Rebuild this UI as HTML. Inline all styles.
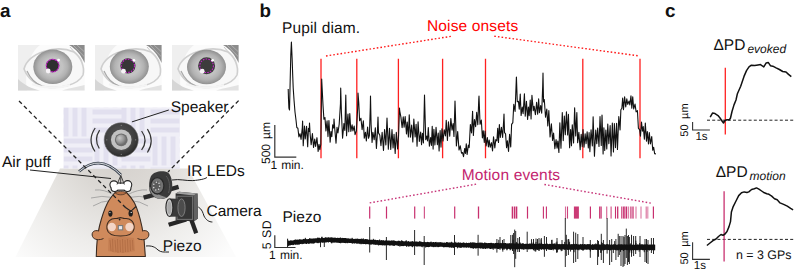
<!DOCTYPE html>
<html><head><meta charset="utf-8">
<style>
html,body{margin:0;padding:0;background:#fff;width:794px;height:273px;overflow:hidden}
svg{display:block}
text{font-family:"Liberation Sans",sans-serif;fill:#111;text-rendering:geometricPrecision}
</style></head><body>
<svg width="794" height="273" viewBox="0 0 794 273" xmlns="http://www.w3.org/2000/svg">
<defs>
<radialGradient id="floorg" gradientUnits="userSpaceOnUse" cx="118" cy="150" r="150">
<stop offset="0" stop-color="#d3cfcb"/><stop offset="0.28" stop-color="#dbd8d4"/><stop offset="0.65" stop-color="#eeedeb"/><stop offset="1" stop-color="#fcfcfc"/>
</radialGradient>
<pattern id="weave" x="63.5" y="107.5" width="58" height="58" patternUnits="userSpaceOnUse">
<rect width="58" height="58" fill="#f0eff7"/>
<g fill="#e2e0ef">
<rect x="0" y="0" width="5" height="29"/><rect x="9" y="0" width="5" height="29"/><rect x="18" y="0" width="5" height="29"/>
<rect x="29" y="2" width="29" height="5"/><rect x="29" y="11" width="29" height="5"/><rect x="29" y="20" width="29" height="5"/>
<rect x="0" y="31" width="29" height="5"/><rect x="0" y="40" width="29" height="5"/><rect x="0" y="49" width="29" height="5"/>
<rect x="31" y="29" width="5" height="29"/><rect x="40" y="29" width="5" height="29"/><rect x="49" y="29" width="5" height="29"/>
</g>
</pattern>
<radialGradient id="irisg" cx="0.5" cy="0.5" r="0.5">
<stop offset="0" stop-color="#bcbcbc"/><stop offset="0.5" stop-color="#c3c3c3"/><stop offset="0.75" stop-color="#b2b2b2"/><stop offset="0.92" stop-color="#9c9c9c"/><stop offset="1" stop-color="#909090"/>
</radialGradient>
<radialGradient id="spk1" cx="0.45" cy="0.4" r="0.6">
<stop offset="0" stop-color="#5a5a5a"/><stop offset="0.8" stop-color="#3c3c3c"/><stop offset="1" stop-color="#2a2a2a"/>
</radialGradient>
<radialGradient id="spk3" cx="0.35" cy="0.35" r="0.7">
<stop offset="0" stop-color="#c8c8c8"/><stop offset="0.6" stop-color="#959595"/><stop offset="1" stop-color="#6a6a6a"/>
</radialGradient>
<clipPath id="eyeclip1"><path d="M28 68 C34 50 60 44 76 56 C80 62 80 72 76 80 C64 88 42 88 28 68 Z"/></clipPath>
</defs>

<!-- ============ PANEL A ============ -->
<text x="0.1" y="17" font-size="18.8" font-weight="bold">a</text>

<!-- eye images -->
<g transform="translate(18,45)">
<rect width="66.6" height="45.4" fill="#fbfbfb"/>
<path d="M0 0 H22 C12 8 6 24 9 45.4 H0 Z" fill="#efefef"/>
<path d="M0 34 C6 40 14 44 22 45.4 H0 Z" fill="#d6d6d6"/>
<path d="M51 0 H66.6 V18 C63 10 58 4 51 0 Z" fill="#8c8c8c"/>
<path d="M55 0 L66.6 12 M59 0 L66.6 7 M52 2 L64 16" stroke="#b8b8b8" stroke-width="0.8"/>
<path d="M44 45.4 C52 43 60 42 66.6 40 V45.4 Z" fill="#e2e2e2"/>
<path d="M6 24 C10 8 38 -1 56 7 C63 12 67 22 65 30 C60 40 42 44 28 42 C18 40 10 34 6 24 Z" fill="#f7f7f7" stroke="#cfcfcf" stroke-width="1.6"/>
<path d="M9 26 C12 33 16 38 24 41" stroke="#a8a8a8" stroke-width="1.2" fill="none"/>
<ellipse cx="34.8" cy="21.8" rx="19.5" ry="17.2" fill="url(#irisg)"/>
<path d="M14 39 C24 43 40 44 52 40" stroke="#f4f4f4" stroke-width="2.2" fill="none"/>
<circle cx="34.6" cy="20.6" r="6.6" fill="#2f2f2f"/>
<circle cx="34.6" cy="20.6" r="6.3" fill="none" stroke="#c424c8" stroke-width="1.1" stroke-dasharray="2.5 0.6"/>
<circle cx="40.6" cy="15.100000000000001" r="1.4" fill="#fff"/>
<circle cx="30.2" cy="26.0" r="2.4" fill="#f6f2f6"/>
</g>
<g transform="translate(95,45)">
<rect width="66.6" height="45.4" fill="#fbfbfb"/>
<path d="M0 0 H22 C12 8 6 24 9 45.4 H0 Z" fill="#efefef"/>
<path d="M0 34 C6 40 14 44 22 45.4 H0 Z" fill="#d6d6d6"/>
<path d="M51 0 H66.6 V18 C63 10 58 4 51 0 Z" fill="#8c8c8c"/>
<path d="M55 0 L66.6 12 M59 0 L66.6 7 M52 2 L64 16" stroke="#b8b8b8" stroke-width="0.8"/>
<path d="M44 45.4 C52 43 60 42 66.6 40 V45.4 Z" fill="#e2e2e2"/>
<path d="M6 24 C10 8 38 -1 56 7 C63 12 67 22 65 30 C60 40 42 44 28 42 C18 40 10 34 6 24 Z" fill="#f7f7f7" stroke="#cfcfcf" stroke-width="1.6"/>
<path d="M9 26 C12 33 16 38 24 41" stroke="#a8a8a8" stroke-width="1.2" fill="none"/>
<ellipse cx="34.3" cy="21.6" rx="19.5" ry="17.2" fill="url(#irisg)"/>
<path d="M14 39 C24 43 40 44 52 40" stroke="#f4f4f4" stroke-width="2.2" fill="none"/>
<circle cx="32.9" cy="20.8" r="7.6" fill="#363636"/>
<circle cx="32.9" cy="20.8" r="6.6" fill="none" stroke="#c424c8" stroke-width="1.1" stroke-dasharray="1.6 1.2"/>
<circle cx="38.9" cy="15.3" r="1.4" fill="#fff"/>
<circle cx="28.5" cy="26.2" r="2.4" fill="#f6f2f6"/>
</g>
<g transform="translate(172,45)">
<rect width="66.6" height="45.4" fill="#fbfbfb"/>
<path d="M0 0 H22 C12 8 6 24 9 45.4 H0 Z" fill="#efefef"/>
<path d="M0 34 C6 40 14 44 22 45.4 H0 Z" fill="#d6d6d6"/>
<path d="M51 0 H66.6 V18 C63 10 58 4 51 0 Z" fill="#8c8c8c"/>
<path d="M55 0 L66.6 12 M59 0 L66.6 7 M52 2 L64 16" stroke="#b8b8b8" stroke-width="0.8"/>
<path d="M44 45.4 C52 43 60 42 66.6 40 V45.4 Z" fill="#e2e2e2"/>
<path d="M6 24 C10 8 38 -1 56 7 C63 12 67 22 65 30 C60 40 42 44 28 42 C18 40 10 34 6 24 Z" fill="#f7f7f7" stroke="#cfcfcf" stroke-width="1.6"/>
<path d="M9 26 C12 33 16 38 24 41" stroke="#a8a8a8" stroke-width="1.2" fill="none"/>
<ellipse cx="34.5" cy="22" rx="19.5" ry="17.2" fill="url(#irisg)"/>
<path d="M14 39 C24 43 40 44 52 40" stroke="#f4f4f4" stroke-width="2.2" fill="none"/>
<circle cx="34.6" cy="20.8" r="8.5" fill="#3c3c3c"/>
<circle cx="34.6" cy="20.8" r="6.8" fill="none" stroke="#c424c8" stroke-width="1.1" stroke-dasharray="1.6 1.2"/>
<circle cx="40.6" cy="15.3" r="1.4" fill="#fff"/>
<circle cx="30.2" cy="26.2" r="2.4" fill="#f6f2f6"/>
</g>

<!-- floor -->
<polygon points="60,168.5 188,168.5 236,257 15.5,257" fill="url(#floorg)"/>
<!-- wall -->
<rect x="63.5" y="107.5" width="116.2" height="61" fill="url(#weave)"/>

<!-- dashed lines from eyes -->
<path d="M238.6 100.6 L168 172" stroke="#222" stroke-width="1.3" stroke-dasharray="4 3" fill="none"/>

<!-- speaker -->
<g>
<circle cx="121.25" cy="139.8" r="17" fill="url(#spk1)" stroke="#666" stroke-width="0.6"/>
<circle cx="121.25" cy="139.8" r="11.4" fill="#4a4a4a"/>
<circle cx="121.25" cy="139.8" r="10.3" fill="#c2c2c2"/>
<circle cx="121.25" cy="139.8" r="6.4" fill="#6e6e6e"/><circle cx="121.1" cy="139.6" r="5.2" fill="url(#spk3)"/><g fill="#8a8a8a"><circle cx="121.25" cy="125.3" r="0.6"/><circle cx="121.25" cy="154.3" r="0.6"/><circle cx="106.8" cy="139.8" r="0.6"/><circle cx="135.7" cy="139.8" r="0.6"/></g>
</g>
<g stroke="#333" stroke-width="1.2" fill="none">
<path d="M95.2 128 Q87 140 95 151.5"/>
<path d="M99.6 130.2 Q93.5 139.5 99.3 148.5"/>
<path d="M141.6 131 Q148.5 140.5 141.6 150"/>
<path d="M147.4 129 Q155 141 147.4 152.5"/>
</g>
<path d="M131.9 121.9 L168.8 110" stroke="#222" stroke-width="1" fill="none"/>
<text x="170.7" y="112.4" font-size="15.5">Speaker</text>

<!-- air puff tube -->
<path d="M79 171.5 Q100 153 121 175" stroke="#3e4652" stroke-width="2.6" fill="none"/>
<path d="M79 171.5 Q100 153 121 175" stroke="#eceef2" stroke-width="0.9" fill="none"/>

<g stroke="#222" stroke-width="2.2" fill="#222"><circle cx="113.9" cy="184.8" r="3.4"/><circle cx="114.6" cy="188" r="3"/><circle cx="127.6" cy="184.8" r="3.6"/><circle cx="127.4" cy="188" r="3"/><rect x="116" y="183.6" width="10" height="6"/></g>
<g fill="#fff"><circle cx="113.9" cy="184.8" r="3.4"/><circle cx="114.6" cy="188" r="3"/><circle cx="127.6" cy="184.8" r="3.6"/><circle cx="127.4" cy="188" r="3"/><rect x="116" y="183.6" width="10" height="6"/></g>
<path d="M120.8 175.5 L117 184.5 M120.8 175.5 L124.4 184.5 M120.8 175.5 L120.6 184" stroke="#333" stroke-width="0.9" fill="none"/>
<path d="M30 170 L111 178.5" stroke="#222" stroke-width="1" fill="none"/>
<text x="1.9" y="166.5" font-size="15.5">Air puff</text>

<!-- guinea pig -->
<g stroke="#999" stroke-width="0.8" fill="none">
<path d="M114 195 Q104 189 95 190"/><path d="M112.5 197.5 Q102 195 91 198"/><path d="M111 200.5 Q101 201 93 206"/>
<path d="M127 195 Q138 189 147 190"/><path d="M128.5 197.5 Q139 195 150 198"/><path d="M130 200.5 Q140 201 148 206"/>
</g>
<path d="M115 192.5 C112 196 109.5 199 107.5 203 C104 210 101.5 218 99.5 226 C97.5 234 96.5 244 96.3 256.5 L145.3 256.5 C145 246 143.8 236 142 227 C140.3 219 138 210 134.5 203 C132 198.5 129.5 195.5 126.5 192.5 Z" fill="#cf8a5c" stroke="#3a2a20" stroke-width="1.1"/>
<path d="M115 192.8 C116.5 191 125 191 126.3 192.8 C124 195.5 117.5 195.5 115 192.8 Z" fill="#b56f45" stroke="#3a2a20" stroke-width="0.7"/>
<path d="M108.5 238 C115 236.5 127 236.5 134 238 L135 251 C127 253.5 116 253.5 108 251 Z" fill="#c07a50" opacity="0.7"/>
<g stroke="#a8653e" stroke-width="0.8" fill="none" opacity="0.8">
<path d="M110 240 L111 251 M112.5 239 L113 252 M115 240 L116 252 M117.5 239 L118 253 M120 240 L120.5 252 M122.5 239 L123 253 M125 240 L125.5 252 M127.5 239 L128 252 M130 240 L130.5 251 M132.5 240 L133 250"/>
</g>
<path d="M107 229 C106 221 111.5 218 116 218.5 C118 218.7 119 217.6 120.5 217.6 C122 217.6 123 218.7 125 218.5 C129.5 218 135 221 134 229 C133 235 127 236 120.5 236 C114 236 108 235 107 229 Z" fill="#cf8a5c" stroke="#3a2a20" stroke-width="1.1"/>
<circle cx="111.8" cy="227" r="4.2" fill="#f3d5c6"/>
<circle cx="129.5" cy="227" r="4.2" fill="#f3d5c6"/>
<rect x="117.8" y="225" width="5.4" height="5.4" fill="#7c7c7c"/><rect x="118.9" y="226.1" width="3.2" height="3.2" fill="#e6e8ee"/>
<circle cx="119.6" cy="219.5" r="0.9" fill="#222"/>
<ellipse cx="110.4" cy="213.6" rx="2.1" ry="3.1" fill="#1e1e1e"/><circle cx="109.9" cy="212.6" r="0.6" fill="#fff"/>
<ellipse cx="130.7" cy="213.4" rx="2.2" ry="3.1" fill="#1e1e1e"/><circle cx="131.2" cy="212.4" r="0.6" fill="#fff"/>
<path d="M125.5 207.5 L131 211.2 M136 206.5 L131 211.2" stroke="#222" stroke-width="1.1"/>
<path d="M99 231 C94 229.5 91 232.5 92.5 236.5 C94 240 99.5 240.5 103.5 238.5" fill="#cf8a5c" stroke="#3a2a20" stroke-width="1"/>
<path d="M142 231 C147 229.5 150 232.5 148.5 236.5 C147 240 141.5 240.5 137.5 238.5" fill="#cf8a5c" stroke="#3a2a20" stroke-width="1"/>

<path d="M19 101 L128 210" stroke="#222" stroke-width="1.3" stroke-dasharray="4 3" fill="none"/>
<!-- IR LED -->
<path d="M143 195.5 L153.5 192.8 L154.6 197 L144.2 199.8 Z" fill="#2c2c2c"/>
<path d="M168.5 187.5 L178 184.8 L179.2 189 L169.6 191.8 Z" fill="#2a2a2a"/>
<path d="M151 176 C154 171 163 170 168 172.5 C172 176 173.2 185 171.5 191.5 C170 196.5 166 199 161 199 C156 199 151.2 196 149.6 191 C148.6 186 149 180 151 176 Z" fill="#3a3a3a"/>
<path d="M149.6 187 C150 193 154 198.5 160.5 199 C163 199 165 198.2 166.5 197 C161 196.5 155 193 152.5 187 Z" fill="#8e8e8e"/>
<path d="M166 176 C169.5 179 170.5 187 168.5 193" stroke="#5a5a5a" stroke-width="1" fill="none"/>
<ellipse cx="157.3" cy="185.8" rx="6.6" ry="8.2" fill="#727272" stroke="#2a2a2a" stroke-width="1.3"/>
<ellipse cx="156.6" cy="186.1" rx="4.2" ry="5" fill="#5a5a5a"/>
<g fill="#d8d8d8"><circle cx="156.4" cy="182.2" r="0.8"/><circle cx="159" cy="183.3" r="0.8"/><circle cx="159.6" cy="186.3" r="0.8"/><circle cx="158.6" cy="189.2" r="0.8"/><circle cx="155.8" cy="190" r="0.8"/><circle cx="153.7" cy="187.6" r="0.8"/><circle cx="153.8" cy="184.2" r="0.8"/></g>
<path d="M172 180 C180 178.7 186 181 192.8 180.6 C200 180 205 179 207 177.4" stroke="#222" stroke-width="1" fill="none"/>
<text x="187" y="175.5" font-size="15.5">IR LEDs</text>

<!-- camera -->
<path d="M168 222.8 L185.6 217.4 L186.9 221.4 L169.3 226.8 Z" fill="#262626"/>
<path d="M189.2 220.2 L193.2 218.8 L198.2 232.6 L194.2 234 Z" fill="#262626"/>
<path d="M175.6 193.5 L179 191.8 L197.5 193.5 L198 218.5 L194 221.2 L175.6 220.5 Z" fill="#2e2e2e"/>
<path d="M175.6 193.5 L179 191.8 L197.5 193.5 L193.5 195.5 Z" fill="#a0a0a0"/>
<path d="M193.5 195.5 L197.5 193.5 L198 218.5 L194 221.2 Z" fill="#626262"/>
<rect x="177" y="196.2" width="15.6" height="23.2" fill="#363636" stroke="#707070" stroke-width="1.1"/>
<path d="M170 198.6 L184 199 L184 216.4 L170 216.8 Z" fill="#3a3a3a"/>
<ellipse cx="181.5" cy="207.7" rx="3.6" ry="8.8" fill="#4c4c4c" stroke="#8a8a8a" stroke-width="0.8"/>
<ellipse cx="169.4" cy="207.6" rx="3.5" ry="8.9" fill="#c6c6c6" stroke="#262626" stroke-width="1.1"/>
<ellipse cx="169.4" cy="207.6" rx="2.1" ry="6.4" fill="#a9a9a9"/>
<path d="M198.3 207 C202 209 203 213 204 216 C206 220 209 222 212.4 222" stroke="#222" stroke-width="1" fill="none"/>
<text x="206.5" y="215.8" font-size="15.5">Camera</text>

<!-- piezo label -->
<path d="M146 246 C152 245.5 155 247 158 250 C161 252.5 164 252 169 252" stroke="#222" stroke-width="1" fill="none"/>
<text x="162.8" y="250.5" font-size="15.5">Piezo</text>

<!-- ============ PANEL B ============ -->
<text x="259.6" y="17" font-size="18.8" font-weight="bold">b</text>
<text x="282" y="33.1" font-size="15.5" letter-spacing="0.15">Pupil diam.</text>
<text x="427" y="31" font-size="15.5" letter-spacing="0.14" style="fill:#ff0000">Noise onsets</text>
<path d="M326 56 L452 36.2 M494.3 36.2 L639.5 56" stroke="#ff1a1a" stroke-width="1.4" stroke-dasharray="1.6 2.07" fill="none"/>
<g stroke="#ff2020" stroke-width="1.3">
<path d="M321 58.8V158.3 M356.8 58.8V158.3 M398.4 58.8V158.3 M442.6 58.8V158.3 M485.5 58.8V158.3 M582.8 58.8V158.3 M640 58.8V158.3"/>
</g>
<path d="M288.2 89 L288.5 99 L288.9 108 L289.5 110 L290.2 80 L290.8 55 L291.4 42 L292.1 58 L292.7 75 L293.2 88 L294.1 101 L295 112 L296 120 L296.8 127.55 L297.89 128.27 L298.92 136.89 L300.02 133.71 L301.07 139.32 L302.3 127.79 L302.6 121 L303.23 145.82 L304.47 125.94 L305.24 139.04 L306.57 126.26 L307.69 146.61 L308.45 128.27 L309.24 131.54 L309.5 123 L310.13 134.25 L311.16 144.66 L312.42 133.59 L313.55 147.45 L314.7 139.06 L315.61 146.36 L316.96 137.67 L318.14 151.52 L319.02 144.21 L319.82 149.59 L320.81 144.31 L321.7 79 L321.79 81.57 L323.05 105.85 L323.92 119.32 L324.95 117.46 L325.94 130.89 L327.07 120.83 L327.98 136.59 L328.93 120.64 L330.14 142.11 L331.03 131.57 L331.82 136.76 L332.68 124.84 L333.7 128.07 L334 119 L334.88 130.28 L336.02 143.27 L337.02 127.36 L337.94 132.85 L339.17 124.22 L340.45 103.97 L340.7 88 L341.43 112.74 L342.57 138.18 L343.91 123.65 L344.82 130.41 L345.77 96.32 L345.8 95 L346.56 135.67 L347.66 117.6 L348 114 L348.77 131.78 L349.79 113.49 L350.83 131.34 L352.1 124.86 L352.94 130.9 L354.19 126.02 L355.05 134.65 L356.36 130.89 L357.68 108.13 L358 93 L358.8 103.36 L359.61 120.76 L360.94 118.32 L362.11 129.6 L363.35 120.77 L364.28 138.15 L365.46 132.21 L366.35 141.05 L367.61 127.16 L368.53 138.31 L369.4 135.59 L370.31 106.98 L370.5 96 L371.1 124.53 L372.07 142.44 L372.9 132.23 L374.18 139.81 L375.33 127.73 L376.43 148.41 L377.2 136.46 L378 117 L378.49 132.86 L379.82 135.27 L380.95 145.7 L382.14 132.22 L383.49 150.5 L384.57 129.6 L385.86 144.87 L387 118 L387.03 118.53 L388.33 149.22 L389.49 128.23 L390.76 149.37 L391.99 129.55 L393.08 147.94 L394.06 134.27 L395.18 153.4 L396.31 132.37 L397.59 149.01 L398.57 135.34 L399.5 108 L399.67 110.69 L400.92 117.18 L402.12 127.77 L403.23 116.87 L404.12 127.22 L405.17 116.59 L406.47 133.84 L407.23 122.02 L408.39 136.97 L409.24 114.83 L410.38 137.2 L411.67 125.08 L412.82 142.05 L413.83 119.06 L415.13 136.93 L416.11 124.24 L417.05 146.11 L418.09 121.74 L419.35 141.49 L420.67 132.11 L421.53 144.67 L422.44 133.38 L423.44 143 L424.49 95.69 L424.5 95 L425.74 139.68 L426.76 136.14 L427.53 140.9 L428.3 127.43 L429.4 146.29 L430.62 137.52 L431.45 145.47 L432.22 126.25 L433.11 149.09 L433.89 129.24 L434.91 144.92 L436.05 127.23 L437.37 144.72 L438.24 133.05 L439.1 151.03 L440.13 130.53 L440.99 147.09 L441.95 128.78 L443.01 141.07 L444.22 129.73 L445.44 136 L446.24 120.26 L447.43 140.53 L448.45 121.76 L449.74 136.22 L450.84 118.43 L452.06 130.25 L453.09 123.49 L453.96 136.42 L455 101 L455.21 106.69 L456.39 145.89 L457.68 131.59 L459.01 150.06 L460.24 145.89 L461.53 153.26 L462.49 152.49 L463.51 156.65 L464.72 148.44 L465.48 153.46 L466.27 143.72 L467.13 154.5 L468.35 145.07 L469.19 147.59 L470.37 124.43 L471.54 133.04 L472.58 111.19 L473.38 135.57 L474.45 119.46 L475.64 126.65 L476.7 112.27 L477.79 124.74 L478.77 99.18 L479 96 L480.06 124.25 L481.32 120.07 L482.38 137.83 L483.25 130.69 L484.3 142.48 L485.07 130.96 L486.13 145.87 L487.36 137.55 L488.4 146.91 L489.19 140.13 L490.19 147.25 L491.5 142.66 L492.53 150.98 L493.54 136.77 L494.83 147.96 L495.77 139.55 L496.89 140.81 L497.72 128.3 L498.48 142.52 L499.37 124.56 L500.31 137.42 L501.44 127.26 L502.62 137.35 L503.68 120.34 L504 114 L504.55 132.71 L505.56 133.86 L506.56 147.75 L507.4 140.68 L508.53 151.39 L509.6 134.37 L510.72 146.87 L511.61 124.41 L512.84 122.59 L513.78 104.27 L515.09 111.38 L516.4 77 L516.44 77.54 L517.27 101.69 L518.45 101.36 L519.26 109.26 L520.26 94.13 L521.09 115.57 L522.25 107.13 L523.12 113.59 L524.42 93.87 L525.24 116.19 L526.44 101.21 L527.6 119.36 L528.4 107.16 L529.17 115.73 L530.23 100.13 L531.06 118.98 L531.94 95.37 L533.28 110.67 L534.09 106.19 L535.41 114.65 L536.62 102.27 L537.65 114.26 L538.66 98.92 L539.41 112.65 L540.67 105.64 L541.69 113.28 L542.69 86.3 L543 73 L543.54 101.91 L544.29 99.58 L545.53 117.18 L546.79 109.01 L547.79 125.91 L548.84 110.63 L550.07 136.98 L551.37 123.9 L552.58 140.46 L553.58 133.07 L554.86 148.79 L556.07 139.48 L557.06 148.31 L557.85 141.03 L558.88 152.55 L559.85 122.76 L560.97 148.15 L562.29 112.62 L563.24 140.59 L564.33 116.13 L565.32 134.6 L566.45 111.69 L567.66 135.04 L568.42 114.42 L569.61 147.74 L570.61 129.56 L571.47 145.77 L572.28 124.85 L573.58 142.97 L574.63 107.81 L575.72 135.9 L576.85 112.52 L577.65 142.64 L578.86 132.39 L580.16 149.63 L581.2 134.35 L582.24 146.58 L583.03 129.56 L584.03 147.27 L585.14 133.7 L586.06 143.62 L587.15 131.88 L588.33 147.88 L589.09 132.66 L589.86 151.6 L591.06 129.79 L592.35 145.86 L593.13 116.86 L594.45 156.24 L595.74 130.09 L596.78 143.73 L597.68 128.1 L598.99 146.57 L600.02 116.63 L601.26 145.56 L602 115 L602.08 116 L603.1 153.87 L603.88 127.82 L604.71 150.54 L605.86 129.98 L606.77 149.02 L607.77 123.97 L608.84 143.82 L610.16 125.6 L611.05 155.94 L612.34 122.94 L613.46 151.93 L614.37 123.59 L615.46 147.58 L616.59 123.28 L617.46 149.44 L618.79 116.45 L620.07 130.03 L620.86 109.78 L621.86 108.28 L622.67 98 L623.47 109.65 L624.62 96.84 L625.75 106.94 L626.79 98.89 L627.75 104.37 L629 101.08 L629.82 104.9 L630.95 95.72 L631.82 108.13 L632.73 96.87 L633.7 108.95 L635.04 104.13 L636.12 111.85 L637.42 110.52 L638.4 128.16 L639.67 129.92 L640.47 136.1 L641.51 122 L642.44 131.2 L643.24 126.52 L644.38 139.31 L645.32 123.03 L646.48 141.18 L647.32 131.65 L648.5 143.95 L649.32 132.44 L650.42 143.94 L651.73 136.64 L652.74 150.31 L653.68 147.24 L654.67 153.82 L655.95 153.88" stroke="#111" stroke-width="1.1" fill="none" stroke-linejoin="round"/>
<!-- scale bar pupil -->
<path d="M274.8 125 V157.2 H296.3" stroke="#333" stroke-width="1.2" fill="none"/>
<text transform="translate(270.2,164) rotate(-90)" font-size="12" word-spacing="1.7">500 µm</text>
<text x="270.4" y="168.9" font-size="12" word-spacing="0.8">1 min.</text>

<text x="461.7" y="180" font-size="15.5" letter-spacing="0.16" style="fill:#c31e6e">Motion events</text>
<path d="M369.7 202.9 L477 184 M544.4 184.5 L651.4 203.2" stroke="#c8377a" stroke-width="1.4" stroke-dasharray="1.6 2.07" fill="none"/>
<g fill="#c8306f"><rect x="369.1" y="206.5" width="1.2" height="12.1"/><rect x="385.9" y="206.5" width="1.2" height="12.1"/><rect x="414.1" y="206.5" width="1.2" height="12.1"/><rect x="423.8" y="206.5" width="1.2" height="12.1" opacity="0.8"/><rect x="454.1" y="206.5" width="1.2" height="12.1"/><rect x="477.85" y="206.5" width="1.3" height="12.1"/><rect x="511.7" y="206.5" width="1.5" height="12.1"/><rect x="513.9" y="206.5" width="1.4" height="12.1"/><rect x="515.8" y="206.5" width="1.5" height="12.1"/><rect x="526.9" y="206.5" width="1.2" height="12.1"/><rect x="542.85" y="206.5" width="1.1" height="12.1"/><rect x="545.85" y="206.5" width="1.1" height="12.1"/><rect x="564.95" y="206.5" width="1.1" height="12.1" opacity="0.7"/><rect x="566.95" y="206.5" width="1.1" height="12.1" opacity="0.9"/><rect x="573.9" y="206.5" width="5" height="12.1" opacity="0.95"/><rect x="589.8" y="206.5" width="1.2" height="12.1"/><rect x="599.1" y="206.5" width="1.2" height="12.1"/><rect x="600.5" y="206.5" width="1.2" height="12.1"/><rect x="606.1" y="206.5" width="1.2" height="12.1" opacity="0.7"/><rect x="610.5" y="206.5" width="1.2" height="12.1" opacity="0.8"/><rect x="614.95" y="206.5" width="1.1" height="12.1"/><rect x="617.05" y="206.5" width="1.3" height="12.1"/><rect x="621.25" y="206.5" width="1.1" height="12.1"/><rect x="622.95" y="206.5" width="1.3" height="12.1" opacity="0.9"/><rect x="624.35" y="206.5" width="1.1" height="12.1"/><rect x="625.95" y="206.5" width="1.1" height="12.1"/><rect x="627.7" y="206.5" width="1.4" height="12.1" opacity="0.6"/><rect x="630.25" y="206.5" width="1.3" height="12.1" opacity="0.9"/><rect x="632.3" y="206.5" width="1.4" height="12.1" opacity="0.9"/><rect x="635.35" y="206.5" width="1.3" height="12.1" opacity="0.55"/><rect x="640.4" y="206.5" width="1.2" height="12.1" opacity="0.6"/><rect x="645.65" y="206.5" width="1.1" height="12.1" opacity="0.7"/><rect x="647.25" y="206.5" width="1.1" height="12.1" opacity="0.6"/><rect x="652.8" y="206.5" width="1.2" height="12.1"/></g>
<text x="282.5" y="222" font-size="15.5">Piezo</text>
<path d="M369.7 227V252.5M386.4 237V260M414.6 230V255M424.2 236V265M454.5 235V255M478.1 234.8V255.7M496.9 239V252.6M500 237V250M502.5 240V250M504 239V250M510.8 235V250M512.6 234.8V251M513.6 233V254M514.7 229.6V267.2M515.7 231V258.8M517.8 238V252M519.5 237V252M527.2 231.7V252M533.5 239V250M536 238.5V250M537.5 239V250M539 238V251M541.3 238V250M544.4 236V256.8M546.5 237V251M551.7 240V250M557 238V252.6M562 240V251M565.3 218V267M566.3 234.8V256M568.4 239V255M573.6 231.7V263M575.7 232.7V262M577.8 234V259M583 237V251M590.3 240V257.8M597.6 240V265M598.5 241V256.8M601.3 233.8V260M603.4 240V263M607.1 218V253.6M609.6 240V265M611.7 239V262M615.9 239V260M618.2 233.8V257M619.3 236V255M621 236V266M623 236V267M624 237V266M625 235V264M626.3 228.6V258M627.4 236V265M628.5 235V262M629.4 237V264M631.5 234.8V256.8M633.6 236V256M635.7 236V254M640 236V257M645 239V262M646.5 239V263M648 240V264M651.4 238V253M653.5 238V254M320.5 240V247.2M324.3 240V247M583.46 245.03V249.72M570.56 244.91V251.59M600.9 245.2V252.81M556.55 244.77V252.61M457.42 243.04V248.33M568.87 239.34V248.89M531.49 239.11V248.47M382.88 240.72V245.47M597.02 244.06V249.17M639.67 242.98V249.34M313.23 238.74V243.72M455.81 241.8V247.01M398.96 240.69V245.36M533.46 243.39V248.5M408.41 241.74V246.58M321.95 236.61V242.12M317.82 237.53V242.37M401.85 240.58V245.47M539.5 243.46V248.59M541.04 239.3V248.61M590.38 245.1V251.43M498.81 239.83V247.97M451.38 242.91V247.8M453.87 242.96V247.65M321.56 237.25V242.14M412.58 241.9V247.19M516.84 242.69V248.25M613.35 245.25V253.05M433.64 242.51V247.21M555.98 242.66V248.76M630.27 243.33V249.31M514.72 244.22V248.94M473.26 243.4V248.72M373.39 238.82V244.2M361.64 238.59V243.5M331.89 237.89V243.23M553.32 244.73V250.37M600.9 245.2V252.9M431.14 241.57V246.45M425.64 242.33V247.6M507.04 244.11V249.78M602.38 243.01V249.21M533.17 242.38V248.5M506.9 244.1V250.36M520.38 243.28V248.31M561.24 244.81V251.19M401.67 240.26V245.47M510.17 244.15V250.27M419.66 240.96V246.19M394.04 240.12V245.16M534.15 244.51V250.94M639.15 245.34V251.66M412.12 241.88V246.98M535.22 244.53V251.54M375.7 240.34V244.99M482.13 243.6V248.57M452.81 242.94V247.8M574.12 244.94V252.23M515.41 244.23V251.56M623.56 245.28V251.02M485.01 243.66V248.95M644.28 245.36V252.19M309.82 238.1V243.01M361.1 239.47V244.3M379.62 239.41V244.58M406.19 240.11V245.65M398.46 241.34V246.03M451.47 241.77V246.91M616.96 245.26V250.74M552.02 239.74V248.72M461.05 243.12V247.84M493.21 243.85V249.9M636.04 243.07V249.33M378.41 240.5V245.52M536 241.96V248.54M295.71 239.36V244.3M601.41 245.21V250.09M614.67 241.06V249.25M595.77 243.43V249.16M453.72 242.96V247.95M340.66 238.33V243.32M399.91 241.4V246.74M631.23 245.31V250.86M621.83 244.47V249.28M635.84 240.67V249.33M363.25 238.24V243.59M554.14 243.09V248.74M305.33 237.82V243.37M393.21 241.13V245.86M523.99 244.36V249.99M539.05 244.59V250.68M629.78 245.31V252.59M541.48 242.64V248.61M535.83 244.54V251.44M502.81 244.04V251.66M516.37 241.91V248.25M647.1 245.37V251.88M331.62 237.88V243.26M601.64 241.93V249.21M426.92 242.36V247.05M483.1 243.62V248.69M557.32 244.77V252.15M569.28 243.58V248.89M534.54 244.52V249.13M578.89 244.99V250.37M450.02 242.88V247.66M512.5 244.19V250.49M519.94 242.26V248.3M422.31 242.25V247.24M564.68 241.95V248.85M486.71 243.7V248.46M485.51 243.67V248.81M651.56 245.38V250.41M317.55 238.4V243.15M472.94 242.45V247.39M620.47 245.27V250.78M620.53 245.27V251.95M365.49 239.08V243.73M318.66 238.31V243.16M483.34 243.63V248.74M333.37 237.97V242.57M513.05 239.81V248.2M569.59 241.76V248.9M631.76 245.31V253.27M556.9 241.61V248.77M447.27 242.07V246.81M406.74 241.67V246.94M352.2 237.81V242.93M602.76 245.21V250.58M463.27 242.11V247.17M566.96 239.5V248.87" stroke="#111" stroke-width="0.9" fill="none"/>
<path d="M288 240.7 L288.6 240.49 L289.2 240.47 L289.8 240.97 L290.4 240.17 L291 240.13 L291.6 240.4 L292.2 240.27 L292.8 240.63 L293.4 240.35 L294 239.89 L294.6 239.79 L295.2 239.87 L295.8 240.29 L296.4 240.05 L297 239.36 L297.6 239.85 L298.2 239.58 L298.8 239.78 L299.4 239.32 L300 239.09 L300.6 239.46 L301.2 239.59 L301.8 239.41 L302.4 239.61 L303 239.29 L303.6 238.86 L304.2 239.21 L304.8 238.85 L305.4 238.59 L306 238.72 L306.6 239.26 L307.2 238.93 L307.8 239.17 L308.4 238.98 L309 238.92 L309.6 238.29 L310.2 238.71 L310.8 238.52 L311.4 238.8 L312 238.2 L312.6 238.76 L313.2 238.67 L313.8 238.21 L314.4 238.38 L315 238.16 L315.6 238.3 L316.2 238.44 L316.8 237.9 L317.4 238.28 L318 237.57 L318.6 237.99 L319.2 237.79 L319.8 237.85 L320.4 238.14 L321 238.13 L321.6 237.47 L322.2 237.53 L322.8 237.58 L323.4 237.98 L324 237.92 L324.6 237.78 L325.2 237.19 L325.8 237.19 L326.4 237.55 L327 237.54 L327.6 237.57 L328.2 237.57 L328.8 237.08 L329.4 237.42 L330 237.73 L330.6 237.2 L331.2 237.57 L331.8 237.27 L332.4 237.39 L333 237.66 L333.6 237.76 L334.2 237.39 L334.8 237.8 L335.4 237.55 L336 238.09 L336.6 237.93 L337.2 237.79 L337.8 237.67 L338.4 237.94 L339 237.66 L339.6 238 L340.2 237.61 L340.8 237.56 L341.4 237.96 L342 238.27 L342.6 237.68 L343.2 237.91 L343.8 237.91 L344.4 237.9 L345 238.02 L345.6 238.08 L346.2 238.1 L346.8 238.62 L347.4 238.32 L348 238.52 L348.6 238.23 L349.2 238.38 L349.8 238.75 L350.4 238.57 L351 238.71 L351.6 238.52 L352.2 238.44 L352.8 238.78 L353.4 239 L354 238.82 L354.6 238.98 L355.2 238.81 L355.8 238.66 L356.4 238.75 L357 238.76 L357.6 238.6 L358.2 238.64 L358.8 239.03 L359.4 238.89 L360 238.63 L360.6 238.95 L361.2 238.76 L361.8 239.42 L362.4 239.05 L363 239.08 L363.6 239.32 L364.2 239.47 L364.8 238.91 L365.4 238.96 L366 239.28 L366.6 239.01 L367.2 239.5 L367.8 239.08 L368.4 239.67 L369 239.84 L369.6 239.62 L370.2 239.39 L370.8 240.04 L371.4 239.86 L372 239.49 L372.6 239.94 L373.2 239.4 L373.8 239.74 L374.4 239.75 L375 239.71 L375.6 239.73 L376.2 239.95 L376.8 240.17 L377.4 240.07 L378 239.88 L378.6 240.49 L379.2 240.19 L379.8 239.88 L380.4 240.6 L381 240.3 L381.6 240.1 L382.2 240.3 L382.8 240.4 L383.4 240.05 L384 240.52 L384.6 240.73 L385.2 240.25 L385.8 240.6 L386.4 240.13 L387 240.5 L387.6 240.51 L388.2 240.81 L388.8 240.3 L389.4 240.79 L390 240.37 L390.6 241 L391.2 240.27 L391.8 240.51 L392.4 240.42 L393 240.6 L393.6 240.57 L394.2 240.93 L394.8 241.07 L395.4 240.88 L396 240.74 L396.6 241.18 L397.2 241.23 L397.8 240.85 L398.4 240.63 L399 241.01 L399.6 240.9 L400.2 240.66 L400.8 241.39 L401.4 241.34 L402 241.08 L402.6 241.06 L403.2 241.32 L403.8 241.35 L404.4 241.16 L405 241.41 L405.6 241.03 L406.2 241.08 L406.8 241.6 L407.4 241.62 L408 241.24 L408.6 241.04 L409.2 241.51 L409.8 241.77 L410.4 241.77 L411 241.08 L411.6 241.69 L412.2 241.11 L412.8 241.26 L413.4 241.44 L414 241.77 L414.6 241.49 L415.2 241.7 L415.8 241.37 L416.4 241.41 L417 241.4 L417.6 241.63 L418.2 241.54 L418.8 242.07 L419.4 242.01 L420 241.49 L420.6 241.61 L421.2 241.85 L421.8 241.74 L422.4 241.88 L423 242.14 L423.6 241.98 L424.2 241.59 L424.8 242.1 L425.4 242.19 L426 242.15 L426.6 242.32 L427.2 242.07 L427.8 241.83 L428.4 242.01 L429 242.31 L429.6 242.18 L430.2 241.85 L430.8 242.28 L431.4 242.27 L432 242.15 L432.6 242.19 L433.2 242.12 L433.8 241.92 L434.4 242.39 L435 242 L435.6 242.03 L436.2 241.78 L436.8 242.53 L437.4 242.26 L438 242.17 L438.6 242.2 L439.2 242.56 L439.8 241.93 L440.4 241.91 L441 242.48 L441.6 242.37 L442.2 242.5 L442.8 242.47 L443.4 242.7 L444 242.6 L444.6 242.43 L445.2 242.7 L445.8 242.69 L446.4 242.06 L447 242.12 L447.6 242.81 L448.2 242.45 L448.8 242.55 L449.4 242.28 L450 242.63 L450.6 242.23 L451.2 242.81 L451.8 242.85 L452.4 242.27 L453 242.84 L453.6 242.76 L454.2 242.63 L454.8 242.79 L455.4 242.44 L456 242.85 L456.6 242.72 L457.2 242.7 L457.8 242.45 L458.4 242.35 L459 242.47 L459.6 242.74 L460.2 242.58 L460.8 242.54 L461.4 242.92 L462 242.84 L462.6 243.11 L463.2 242.96 L463.8 242.96 L464.4 242.59 L465 243.19 L465.6 243.12 L466.2 242.55 L466.8 242.76 L467.4 242.92 L468 243.02 L468.6 242.83 L469.2 242.73 L469.8 242.9 L470.4 242.37 L471 242.2 L471.6 242.87 L472.2 242.24 L472.8 242.64 L473.4 242.39 L474 242.59 L474.6 242.55 L475.2 242.39 L475.8 243.01 L476.4 243.04 L477 242.7 L477.6 242.78 L478.2 242.89 L478.8 242.67 L479.4 242.54 L480 242.87 L480.6 242.38 L481.2 242.5 L481.8 242.87 L482.4 242.54 L483 243.19 L483.6 243.15 L484.2 242.52 L484.8 242.62 L485.4 242.73 L486 242.79 L486.6 243 L487.2 242.9 L487.8 243.18 L488.4 243.09 L489 243.1 L489.6 242.99 L490.2 243.06 L490.8 242.74 L491.4 242.85 L492 242.99 L492.6 243.14 L493.2 242.9 L493.8 243.23 L494.4 243.4 L495 243.02 L495.6 242.93 L496.2 242.77 L496.8 242.96 L497.4 242.94 L498 242.79 L498.6 243.02 L499.2 242.99 L499.8 243.43 L500.4 242.89 L501 242.84 L501.6 243.31 L502.2 243.32 L502.8 243.12 L503.4 242.92 L504 243.35 L504.6 243.12 L505.2 243.11 L505.8 242.98 L506.4 243.45 L507 243.21 L507.6 243.58 L508.2 243.11 L508.8 243.68 L509.4 243.08 L510 243.17 L510.6 243.42 L511.2 243.04 L511.8 243.55 L512.4 243.01 L513 243.77 L513.6 243.35 L514.2 243.67 L514.8 243.35 L515.4 243.28 L516 243.79 L516.6 243.18 L517.2 243.6 L517.8 243.35 L518.4 243.69 L519 243.21 L519.6 243.81 L520.2 243.78 L520.8 243.79 L521.4 243.84 L522 243.34 L522.6 243.3 L523.2 243.21 L523.8 243.46 L524.4 243.88 L525 243.92 L525.6 243.68 L526.2 243.45 L526.8 243.93 L527.4 243.58 L528 243.93 L528.6 243.73 L529.2 243.64 L529.8 243.29 L530.4 243.45 L531 243.83 L531.6 243.69 L532.2 243.49 L532.8 243.79 L533.4 243.7 L534 243.48 L534.6 243.88 L535.2 243.45 L535.8 244.1 L536.4 243.96 L537 244.1 L537.6 244.09 L538.2 243.39 L538.8 243.87 L539.4 244.12 L540 243.55 L540.6 243.59 L541.2 244.2 L541.8 243.85 L542.4 243.81 L543 244.06 L543.6 243.88 L544.2 244.17 L544.8 243.48 L545.4 243.85 L546 243.95 L546.6 243.92 L547.2 243.55 L547.8 243.77 L548.4 244.26 L549 243.96 L549.6 243.64 L550.2 244 L550.8 243.7 L551.4 244.2 L552 243.98 L552.6 243.53 L553.2 243.99 L553.8 243.96 L554.4 243.81 L555 244.21 L555.6 244.3 L556.2 243.64 L556.8 244.21 L557.4 243.71 L558 243.9 L558.6 244.2 L559.2 243.64 L559.8 244.25 L560.4 244.19 L561 244.11 L561.6 244.29 L562.2 243.64 L562.8 244.36 L563.4 243.92 L564 244.15 L564.6 243.98 L565.2 244.26 L565.8 244.25 L566.4 243.88 L567 244.09 L567.6 244.47 L568.2 244.15 L568.8 244 L569.4 244.45 L570 244.47 L570.6 244.23 L571.2 244.27 L571.8 243.99 L572.4 244.23 L573 243.96 L573.6 243.78 L574.2 244.3 L574.8 243.8 L575.4 244.2 L576 244.14 L576.6 243.83 L577.2 244.13 L577.8 244.47 L578.4 244.19 L579 244.42 L579.6 244.55 L580.2 244.33 L580.8 243.83 L581.4 244.39 L582 244.03 L582.6 243.96 L583.2 244.32 L583.8 244.44 L584.4 243.94 L585 243.93 L585.6 244.55 L586.2 244.07 L586.8 244.66 L587.4 244.01 L588 243.98 L588.6 244.21 L589.2 244.12 L589.8 244.21 L590.4 243.94 L591 244.66 L591.6 244.64 L592.2 244.35 L592.8 244.01 L593.4 244.68 L594 244.07 L594.6 244.14 L595.2 244.51 L595.8 244.15 L596.4 244.04 L597 244.65 L597.6 244.57 L598.2 244.62 L598.8 244.51 L599.4 244.45 L600 244.28 L600.6 244.69 L601.2 244.25 L601.8 244.35 L602.4 244.69 L603 244.42 L603.6 244.09 L604.2 244.29 L604.8 244.19 L605.4 244.58 L606 244.61 L606.6 244.11 L607.2 244.32 L607.8 244.06 L608.4 244.21 L609 244.75 L609.6 244.16 L610.2 244.8 L610.8 244.53 L611.4 244.26 L612 244.52 L612.6 244.77 L613.2 244.27 L613.8 244.15 L614.4 244.61 L615 244.1 L615.6 244.14 L616.2 244.77 L616.8 244.68 L617.4 244.41 L618 244.78 L618.6 244.12 L619.2 244.5 L619.8 244.26 L620.4 244.44 L621 244.09 L621.6 244.53 L622.2 244.44 L622.8 244.54 L623.4 244.47 L624 244.58 L624.6 244.15 L625.2 244.24 L625.8 244.78 L626.4 244.14 L627 244.54 L627.6 244.44 L628.2 244.67 L628.8 244.7 L629.4 244.3 L630 244.8 L630.6 244.35 L631.2 244.83 L631.8 244.81 L632.4 244.84 L633 244.42 L633.6 244.79 L634.2 244.84 L634.8 244.72 L635.4 244.88 L636 244.83 L636.6 244.66 L637.2 244.42 L637.8 244.24 L638.4 244.71 L639 244.24 L639.6 244.61 L640.2 244.16 L640.8 244.42 L641.4 244.37 L642 244.2 L642.6 244.27 L643.2 244.62 L643.8 244.42 L644.4 244.37 L645 244.39 L645.6 244.33 L646.2 244.57 L646.8 244.33 L647.4 244.3 L648 244.54 L648.6 244.88 L649.2 244.2 L649.8 244.79 L650.4 244.46 L651 244.47 L651.6 244.77 L652.2 244.46 L652.8 244.39 L653.4 244.64 L654 244.4 L654.6 244.52 L655.2 244.64 L655.2 250.35 L654.6 250.4 L654 250.09 L653.4 250.04 L652.8 250.19 L652.2 250.25 L651.6 249.79 L651 249.97 L650.4 250.09 L649.8 250.44 L649.2 250.46 L648.6 249.94 L648 250.15 L647.4 249.8 L646.8 250.38 L646.2 249.77 L645.6 249.89 L645 250.25 L644.4 250.16 L643.8 250.03 L643.2 250.42 L642.6 250.28 L642 250 L641.4 249.75 L640.8 250.35 L640.2 249.85 L639.6 250.07 L639 249.85 L638.4 250 L637.8 250.47 L637.2 250.12 L636.6 250.2 L636 250.34 L635.4 250.3 L634.8 250.01 L634.2 250.19 L633.6 250.28 L633 250.4 L632.4 250.07 L631.8 249.85 L631.2 250.51 L630.6 250.29 L630 249.87 L629.4 250.19 L628.8 250.08 L628.2 250.3 L627.6 250.1 L627 250.43 L626.4 250.07 L625.8 249.74 L625.2 250.11 L624.6 249.95 L624 250.19 L623.4 250.42 L622.8 249.85 L622.2 250.46 L621.6 249.89 L621 250.11 L620.4 249.74 L619.8 249.76 L619.2 249.75 L618.6 250.42 L618 250.07 L617.4 249.89 L616.8 249.68 L616.2 249.99 L615.6 250.06 L615 250.29 L614.4 249.8 L613.8 249.7 L613.2 249.98 L612.6 249.7 L612 249.91 L611.4 249.85 L610.8 250.15 L610.2 250.41 L609.6 250.1 L609 250.14 L608.4 249.9 L607.8 249.72 L607.2 250.14 L606.6 249.84 L606 249.91 L605.4 249.71 L604.8 250.29 L604.2 249.95 L603.6 250.06 L603 250.04 L602.4 249.82 L601.8 250.34 L601.2 249.96 L600.6 250 L600 249.74 L599.4 250.09 L598.8 249.65 L598.2 249.65 L597.6 250.33 L597 249.74 L596.4 249.94 L595.8 249.97 L595.2 249.55 L594.6 249.75 L594 249.64 L593.4 250.05 L592.8 250.1 L592.2 250.04 L591.6 249.57 L591 250.06 L590.4 249.59 L589.8 249.68 L589.2 249.98 L588.6 249.58 L588 249.51 L587.4 249.87 L586.8 249.5 L586.2 249.91 L585.6 249.5 L585 249.59 L584.4 249.79 L583.8 249.65 L583.2 249.94 L582.6 249.93 L582 249.63 L581.4 250.04 L580.8 249.62 L580.2 249.52 L579.6 249.47 L579 249.75 L578.4 249.84 L577.8 249.66 L577.2 250.04 L576.6 249.61 L576 249.67 L575.4 249.94 L574.8 249.41 L574.2 249.48 L573.6 250.13 L573 250.08 L572.4 249.75 L571.8 250.06 L571.2 249.67 L570.6 249.32 L570 249.61 L569.4 249.69 L568.8 249.92 L568.2 249.69 L567.6 249.89 L567 249.83 L566.4 249.37 L565.8 249.69 L565.2 249.71 L564.6 250.02 L564 249.62 L563.4 249.53 L562.8 249.32 L562.2 249.78 L561.6 249.63 L561 249.83 L560.4 249.81 L559.8 249.54 L559.2 249.22 L558.6 249.92 L558 249.29 L557.4 249.94 L556.8 249.18 L556.2 249.87 L555.6 249.46 L555 249.52 L554.4 249.24 L553.8 249.37 L553.2 249.35 L552.6 249.3 L552 249.9 L551.4 249.74 L550.8 249.82 L550.2 249.9 L549.6 249.83 L549 249.79 L548.4 249.7 L547.8 249.11 L547.2 249.59 L546.6 249.54 L546 249.68 L545.4 249.1 L544.8 249.6 L544.2 249.27 L543.6 249.41 L543 249.81 L542.4 249.07 L541.8 249.32 L541.2 249.21 L540.6 249.29 L540 249 L539.4 249.28 L538.8 249.73 L538.2 249.41 L537.6 249.35 L537 249.17 L536.4 249.48 L535.8 249.27 L535.2 249.34 L534.6 249.19 L534 249.37 L533.4 249.46 L532.8 249.12 L532.2 249.62 L531.6 249.16 L531 248.96 L530.4 249.43 L529.8 248.9 L529.2 249.61 L528.6 249.38 L528 249.3 L527.4 249.11 L526.8 249.12 L526.2 249.39 L525.6 249.15 L525 248.94 L524.4 248.85 L523.8 249.53 L523.2 249.51 L522.6 249.31 L522 249.38 L521.4 249.33 L520.8 249.2 L520.2 248.78 L519.6 248.85 L519 249.07 L518.4 249.23 L517.8 249.41 L517.2 249.34 L516.6 249.41 L516 249.03 L515.4 249.21 L514.8 249.14 L514.2 248.77 L513.6 249.09 L513 248.69 L512.4 248.74 L511.8 249.06 L511.2 248.81 L510.6 248.98 L510 248.88 L509.4 249.24 L508.8 248.98 L508.2 248.7 L507.6 249.02 L507 249.22 L506.4 248.71 L505.8 248.66 L505.2 248.78 L504.6 248.91 L504 248.55 L503.4 248.94 L502.8 249.16 L502.2 248.58 L501.6 248.43 L501 248.85 L500.4 248.6 L499.8 248.81 L499.2 248.87 L498.6 249.04 L498 249.07 L497.4 248.88 L496.8 248.39 L496.2 248.53 L495.6 248.55 L495 248.9 L494.4 248.56 L493.8 248.32 L493.2 248.66 L492.6 248.71 L492 248.86 L491.4 248.74 L490.8 248.93 L490.2 248.97 L489.6 248.73 L489 248.46 L488.4 248.16 L487.8 248.44 L487.2 248.58 L486.6 248.11 L486 248.73 L485.4 248.76 L484.8 248.32 L484.2 248.2 L483.6 248.61 L483 248.15 L482.4 248.4 L481.8 248.1 L481.2 248.47 L480.6 248.64 L480 248.15 L479.4 248.13 L478.8 248.21 L478.2 248.07 L477.6 248.07 L477 248.59 L476.4 248.33 L475.8 248.64 L475.2 248.18 L474.6 247.91 L474 248.59 L473.4 248.55 L472.8 248.14 L472.2 248.14 L471.6 248.01 L471 248.38 L470.4 248.09 L469.8 247.46 L469.2 247.38 L468.6 247.96 L468 247.29 L467.4 247.56 L466.8 247.44 L466.2 248 L465.6 247.51 L465 247.25 L464.4 247.64 L463.8 247.24 L463.2 247.71 L462.6 247.29 L462 247.25 L461.4 247.78 L460.8 247.68 L460.2 247.87 L459.6 247.74 L459 247.54 L458.4 247.59 L457.8 247.5 L457.2 247.29 L456.6 247.1 L456 247.24 L455.4 247.03 L454.8 247.03 L454.2 247.43 L453.6 247.02 L453 247.01 L452.4 247.18 L451.8 247.53 L451.2 247.15 L450.6 247.07 L450 247.23 L449.4 247.59 L448.8 247.35 L448.2 247.29 L447.6 247.25 L447 246.98 L446.4 247.27 L445.8 247.21 L445.2 247.02 L444.6 247.18 L444 247.15 L443.4 247.5 L442.8 246.75 L442.2 247.03 L441.6 246.73 L441 246.71 L440.4 246.7 L439.8 247.04 L439.2 246.69 L438.6 246.9 L438 247.4 L437.4 246.63 L436.8 247.2 L436.2 246.57 L435.6 246.9 L435 247.29 L434.4 246.72 L433.8 247.08 L433.2 246.72 L432.6 246.73 L432 247.25 L431.4 246.52 L430.8 246.46 L430.2 246.56 L429.6 246.96 L429 246.94 L428.4 247.15 L427.8 246.91 L427.2 247.11 L426.6 247.09 L426 246.72 L425.4 246.55 L424.8 246.53 L424.2 246.42 L423.6 246.59 L423 246.39 L422.4 246.33 L421.8 246.58 L421.2 246.94 L420.6 246.21 L420 246.58 L419.4 246.21 L418.8 246.18 L418.2 246.44 L417.6 246.56 L417 246.49 L416.4 246.4 L415.8 246.55 L415.2 246.12 L414.6 246.26 L414 246.23 L413.4 246.22 L412.8 246.02 L412.2 246.42 L411.6 245.96 L411 246.38 L410.4 245.94 L409.8 246.37 L409.2 246.41 L408.6 246.13 L408 245.91 L407.4 245.8 L406.8 246.21 L406.2 246.17 L405.6 245.77 L405 245.9 L404.4 245.68 L403.8 246.15 L403.2 245.97 L402.6 246 L402 246.21 L401.4 245.96 L400.8 245.99 L400.2 245.71 L399.6 245.78 L399 245.61 L398.4 245.44 L397.8 245.91 L397.2 245.33 L396.6 245.57 L396 245.27 L395.4 245.34 L394.8 245.68 L394.2 245.9 L393.6 245.25 L393 245.88 L392.4 245.27 L391.8 245.11 L391.2 245.85 L390.6 245.6 L390 245.53 L389.4 245.63 L388.8 245.01 L388.2 245.4 L387.6 245.17 L387 245.32 L386.4 244.97 L385.8 245.46 L385.2 245.15 L384.6 245.45 L384 245.42 L383.4 244.89 L382.8 245.03 L382.2 245.42 L381.6 245.17 L381 245.1 L380.4 245.24 L379.8 245.02 L379.2 245.29 L378.6 244.72 L378 244.95 L377.4 244.73 L376.8 244.83 L376.2 244.64 L375.6 244.58 L375 244.39 L374.4 244.75 L373.8 244.61 L373.2 244.43 L372.6 244.28 L372 244.32 L371.4 244.83 L370.8 244.47 L370.2 244.67 L369.6 244.21 L369 244.44 L368.4 244.29 L367.8 244.26 L367.2 244.09 L366.6 244.19 L366 243.97 L365.4 244.45 L364.8 243.99 L364.2 243.89 L363.6 243.96 L363 244.29 L362.4 243.66 L361.8 243.96 L361.2 243.47 L360.6 243.72 L360 244.17 L359.4 243.82 L358.8 243.44 L358.2 243.81 L357.6 243.59 L357 243.99 L356.4 243.46 L355.8 243.22 L355.2 243.14 L354.6 243.74 L354 243.37 L353.4 243.33 L352.8 243.69 L352.2 243.4 L351.6 243.2 L351 242.89 L350.4 242.97 L349.8 242.9 L349.2 242.94 L348.6 242.76 L348 243.25 L347.4 243.19 L346.8 242.77 L346.2 243.19 L345.6 243.2 L345 242.89 L344.4 242.98 L343.8 242.63 L343.2 243.04 L342.6 242.81 L342 243.07 L341.4 242.79 L340.8 243.11 L340.2 242.86 L339.6 242.95 L339 242.91 L338.4 242.74 L337.8 242.83 L337.2 242.81 L336.6 242.67 L336 242.54 L335.4 242.53 L334.8 242.8 L334.2 242.56 L333.6 242.37 L333 242.51 L332.4 242.53 L331.8 242.45 L331.2 242.49 L330.6 242.52 L330 242.02 L329.4 242.09 L328.8 242.35 L328.2 242.66 L327.6 242.01 L327 242.15 L326.4 242.53 L325.8 242.33 L325.2 242.67 L324.6 242.38 L324 242.72 L323.4 242.41 L322.8 242.72 L322.2 242.87 L321.6 242.24 L321 242.55 L320.4 242.92 L319.8 242.55 L319.2 242.93 L318.6 242.5 L318 242.79 L317.4 242.45 L316.8 243.25 L316.2 242.62 L315.6 242.69 L315 242.85 L314.4 243.39 L313.8 243.43 L313.2 243.02 L312.6 243.55 L312 243.53 L311.4 243.49 L310.8 243.56 L310.2 243.27 L309.6 243.79 L309 243.68 L308.4 243.89 L307.8 243.21 L307.2 243.69 L306.6 243.9 L306 244 L305.4 243.39 L304.8 243.46 L304.2 243.85 L303.6 243.9 L303 243.81 L302.4 244.15 L301.8 244.14 L301.2 243.76 L300.6 243.88 L300 244.04 L299.4 244.64 L298.8 244.69 L298.2 244.55 L297.6 244.85 L297 244.85 L296.4 244.39 L295.8 244.99 L295.2 244.46 L294.6 244.54 L294 244.63 L293.4 245.3 L292.8 244.81 L292.2 245.17 L291.6 244.98 L291 244.94 L290.4 245.44 L289.8 245.36 L289.2 245.8 L288.6 245.88 L288 245.79 Z" fill="#111"/>
<path d="M287.6 238.7 V247" stroke="#111" stroke-width="1"/>
<path d="M274.8 235.3 V247.5 H295.5" stroke="#333" stroke-width="1.2" fill="none"/>
<text transform="translate(271,249.2) rotate(-90)" font-size="12.4" letter-spacing="0.45">5 SD</text>
<text x="269.1" y="258.9" font-size="12" word-spacing="0.8">1 min.</text>

<!-- ============ PANEL C ============ -->
<text x="665.1" y="17.3" font-size="18.8" font-weight="bold">c</text>
<text x="713.5" y="50.3" font-size="15.5">ΔPD<tspan font-size="12" font-style="italic" dy="2.7" dx="2">evoked</tspan></text>
<path d="M707 120.2 H794" stroke="#222" stroke-width="1" stroke-dasharray="3 2.2"/>
<path d="M725.3 67.8 V134.4" stroke="#ff2020" stroke-width="1.3"/>
<path d="M710.2 117.2 L712.5 113.1 L715 113.6 L718 115.6 L720 118 L722 121 L723.5 123 L725 120.5 L727 119.7 L729.5 119.7 L730.5 118 L732 111.5 L734 104.9 L736 100 L737.4 93.7 L740.7 86.3 L744 76.4 L746.5 70.6 L749 66.9 L751.4 65.2 L754.7 65.4 L758 64.9 L760.5 64.6 L763.8 66.9 L766.2 62.9 L768.2 62.4 L770.4 65.7 L772.8 66.2 L776.1 67.9 L779.4 69.5 L782.7 71.5 L786 72 L788.5 74.4 L791.3 76.7" stroke="#111" stroke-width="1.5" fill="none" stroke-linejoin="round"/>
<path d="M692.6 122.1 V130 H709.9" stroke="#333" stroke-width="1.1" fill="none"/>
<text transform="translate(688.2,136.7) rotate(-90)" font-size="11" word-spacing="2.5">50 µm</text>
<text x="695.4" y="140" font-size="11.6">1s</text>

<text x="715.7" y="176.7" font-size="15.5">ΔPD<tspan font-size="12" font-style="italic" dy="3.2" dx="2">motion</tspan></text>
<path d="M707 239.4 H794" stroke="#222" stroke-width="1" stroke-dasharray="3 2.2"/>
<path d="M724.1 191.3 V261.5" stroke="#c8306f" stroke-width="1.3"/>
<path d="M706.9 245.5 L710 243 L713 240.6 L716 239 L718.5 236.5 L721 234.5 L723 235.3 L725 234 L727 231.5 L729 226.6 L730.5 221.6 L731.4 212 L733.2 206.6 L736 201 L738.7 195.6 L741.5 192.8 L744.2 191.9 L747 192.5 L748.8 191.9 L751.6 189.5 L754.3 188.8 L756.5 187.9 L758.9 189.2 L761.6 191 L764.4 192.8 L766.8 193.7 L769 194.3 L771.7 196.1 L774.5 198.7 L777.2 199.8 L780 202.9 L783.6 204.4 L787.3 206.2 L790.6 208.4 L793.1 209.9" stroke="#111" stroke-width="1.5" fill="none" stroke-linejoin="round"/>
<path d="M692.6 242.2 V259.4 H709.9" stroke="#333" stroke-width="1.1" fill="none"/>
<text transform="translate(688.2,264.6) rotate(-90)" font-size="11" word-spacing="2.5">50 µm</text>
<text x="693.8" y="268.6" font-size="11.6">1s</text>
<text x="736" y="258.7" font-size="12.4">n = 3 GPs</text>
</svg>
</body></html>
